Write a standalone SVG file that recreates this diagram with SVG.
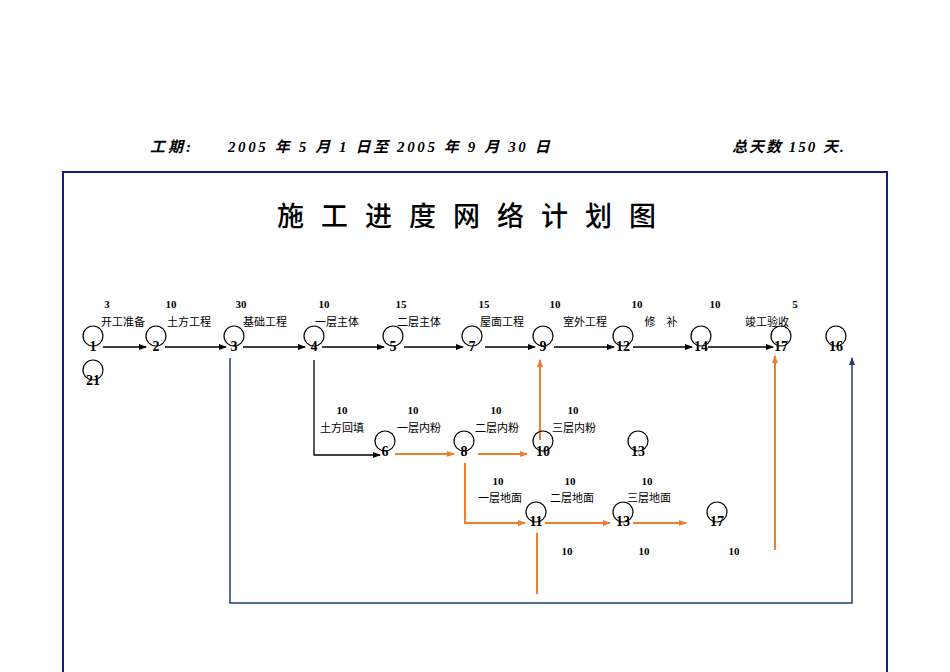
<svg xmlns="http://www.w3.org/2000/svg" width="950" height="672" viewBox="0 0 950 672">
<defs>
<marker id="ab" markerWidth="8" markerHeight="6" refX="7" refY="3" orient="auto" markerUnits="userSpaceOnUse"><path d="M0,0 L8,3 L0,6 Z" fill="#000"/></marker>
<marker id="ao" markerWidth="8" markerHeight="6" refX="7" refY="3" orient="auto" markerUnits="userSpaceOnUse"><path d="M0,0 L8,3 L0,6 Z" fill="#ed7d31"/></marker>
<marker id="an" markerWidth="8" markerHeight="6" refX="7" refY="3" orient="auto" markerUnits="userSpaceOnUse"><path d="M0,0 L8,3 L0,6 Z" fill="#1f3f6e"/></marker>
</defs>
<style>
text{font-family:"Liberation Serif","Noto Sans CJK SC",serif;fill:#000}
.n{font-size:14px;font-weight:bold;text-anchor:middle}
.d{font-size:11px;font-weight:bold;text-anchor:middle}
.l{font-size:11px;text-anchor:middle}
.h{font-size:15px;font-style:italic;font-weight:bold}
circle{fill:none;stroke:#000;stroke-width:1.2}
.bk{stroke:#000;stroke-width:1.3;fill:none}
.or{stroke:#ed7d31;stroke-width:2;fill:none}
.nv{stroke:#1f3f6e;stroke-width:1.5;fill:none}
</style>
<rect width="950" height="672" fill="#fff"/>
<path d="M63,672 V172 H887 V672" fill="none" stroke="#1a1a80" stroke-width="2"/>
<text class="h" x="150" y="152" letter-spacing="3">工期:</text>
<text class="h" x="228" y="152" letter-spacing="2.6">2005 年 5 月 1 日至 2005 年 9 月 30 日</text>
<text class="h" x="732" y="152" letter-spacing="2">总天数 150 天.</text>
<text x="475" y="226" font-size="27" font-weight="500" text-anchor="middle" letter-spacing="17">施工进度网络计划图</text>
<g id="connectors">
<line class="bk" x1="103" y1="347" x2="146" y2="347" marker-end="url(#ab)"/>
<line class="bk" x1="165" y1="347" x2="226" y2="347" marker-end="url(#ab)"/>
<line class="bk" x1="243" y1="347" x2="305" y2="347" marker-end="url(#ab)"/>
<line class="bk" x1="322" y1="347" x2="384" y2="347" marker-end="url(#ab)"/>
<line class="bk" x1="404" y1="347" x2="463" y2="347" marker-end="url(#ab)"/>
<line class="bk" x1="485" y1="347" x2="535" y2="347" marker-end="url(#ab)"/>
<line class="bk" x1="554" y1="347" x2="614" y2="347" marker-end="url(#ab)"/>
<line class="bk" x1="633" y1="347" x2="692" y2="347" marker-end="url(#ab)"/>
<line class="bk" x1="708" y1="347" x2="773" y2="347" marker-end="url(#ab)"/>
<polyline class="nv" points="230,358 230,603 852,603 852,358" marker-end="url(#an)"/>
<polyline class="bk" points="314,360 314,455 380,455" marker-end="url(#ab)"/>
<line class="or" x1="395" y1="454" x2="454" y2="454" marker-end="url(#ao)"/>
<line class="or" x1="478" y1="454" x2="527" y2="454" marker-end="url(#ao)"/>
<line class="or" x1="540" y1="440" x2="540" y2="360" marker-end="url(#ao)"/>
<polyline class="or" points="465,463 465,523 525,523" marker-end="url(#ao)"/>
<line class="or" x1="545" y1="523" x2="610" y2="523" marker-end="url(#ao)"/>
<line class="or" x1="633" y1="523" x2="686" y2="523" marker-end="url(#ao)"/>
<line class="or" x1="537" y1="533" x2="537" y2="594"/>
<line class="or" x1="775" y1="550" x2="775" y2="356" marker-end="url(#ao)"/>
</g>
<g id="n1"><circle cx="93" cy="336" r="10"/><text class="n" x="93" y="351">1</text></g>
<g id="n2"><circle cx="156" cy="336" r="10"/><text class="n" x="156" y="351">2</text></g>
<g id="n3"><circle cx="234" cy="336" r="10"/><text class="n" x="234" y="351">3</text></g>
<g id="n4"><circle cx="314" cy="336" r="10"/><text class="n" x="314" y="351">4</text></g>
<g id="n5"><circle cx="393" cy="336" r="10"/><text class="n" x="393" y="351">5</text></g>
<g id="n7"><circle cx="472" cy="336" r="10"/><text class="n" x="472" y="351">7</text></g>
<g id="n9"><circle cx="543" cy="336" r="10"/><text class="n" x="543" y="351">9</text></g>
<g id="n12"><circle cx="623" cy="336" r="10"/><text class="n" x="623" y="351">12</text></g>
<g id="n14"><circle cx="701" cy="336" r="10"/><text class="n" x="701" y="351">14</text></g>
<g id="n17"><circle cx="781" cy="336" r="10"/><text class="n" x="781" y="351">17</text></g>
<g id="n16"><circle cx="836" cy="336" r="10"/><text class="n" x="836" y="351">16</text></g>
<g id="n21"><circle cx="93" cy="370" r="10"/><text class="n" x="93" y="385">21</text></g>
<g id="n6"><circle cx="385" cy="441" r="10"/><text class="n" x="385" y="456">6</text></g>
<g id="n8"><circle cx="464" cy="441" r="10"/><text class="n" x="464" y="456">8</text></g>
<g id="n10"><circle cx="543" cy="441" r="10"/><text class="n" x="543" y="456">10</text></g>
<g id="n13a"><circle cx="638" cy="441" r="10"/><text class="n" x="638" y="456">13</text></g>
<g id="n11"><circle cx="536" cy="512" r="10"/><text class="n" x="536" y="526">11</text></g>
<g id="n13b"><circle cx="623" cy="512" r="10"/><text class="n" x="623" y="526">13</text></g>
<g id="n17b"><circle cx="717" cy="512" r="10"/><text class="n" x="717" y="526">17</text></g>
<g id="labels">
<text class="d" x="107" y="308">3</text><text class="d" x="171" y="308">10</text><text class="d" x="241" y="308">30</text><text class="d" x="324" y="308">10</text><text class="d" x="401" y="308">15</text><text class="d" x="484" y="308">15</text><text class="d" x="555" y="308">10</text><text class="d" x="637" y="308">10</text><text class="d" x="715" y="308">10</text><text class="d" x="795" y="308">5</text>
<text class="l" x="123" y="326">开工准备</text><text class="l" x="189" y="326">土方工程</text><text class="l" x="265" y="326">基础工程</text><text class="l" x="337" y="326">一层主体</text><text class="l" x="419" y="326">二层主体</text><text class="l" x="502" y="326">屋面工程</text><text class="l" x="585" y="326">室外工程</text><text class="l" x="661" y="326">修　补</text><text class="l" x="767" y="326">竣工验收</text>
<text class="d" x="342" y="414">10</text><text class="d" x="413" y="414">10</text><text class="d" x="496" y="414">10</text><text class="d" x="573" y="414">10</text>
<text class="l" x="342" y="432">土方回填</text><text class="l" x="419" y="432">一层内粉</text><text class="l" x="497" y="432">二层内粉</text><text class="l" x="574" y="432">三层内粉</text>
<text class="d" x="498" y="485">10</text><text class="d" x="570" y="485">10</text><text class="d" x="647" y="485">10</text>
<text class="l" x="500" y="502">一层地面</text><text class="l" x="572" y="502">二层地面</text><text class="l" x="649" y="502">三层地面</text>
<text class="d" x="567" y="555">10</text><text class="d" x="644" y="555">10</text><text class="d" x="734" y="555">10</text>
</g>
</svg>
